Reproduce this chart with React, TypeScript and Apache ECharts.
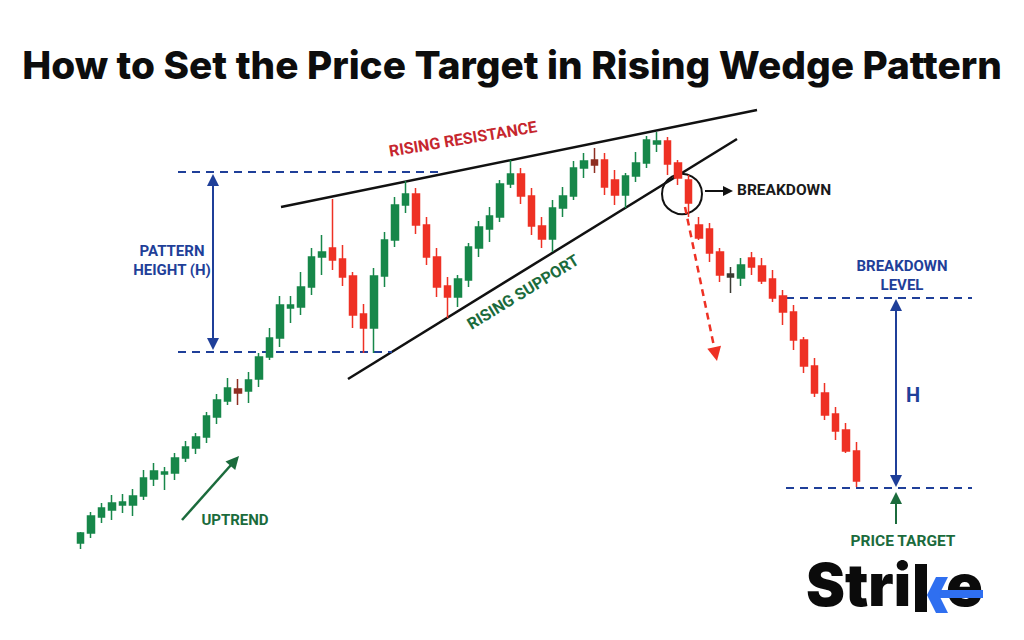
import React, { useEffect, useRef } from "react";
import * as echarts from "echarts";

// ---- Data (price units; one candle per session) ----
const openPrices = [97, 107, 123, 130, 135, 135, 144, 161, 166, 167, 182, 192, 203, 223, 239, 251, 249, 261, 283, 302, 332, 333, 353, 383, 392, 381, 364, 326, 312, 364, 400, 435, 446, 415, 383, 354, 343, 360, 392, 411, 423, 456, 466, 444, 414, 401, 432, 444, 472, 480, 480, 460, 445, 464, 477, 496, 499, 477, 460, 415, 411, 388, 366, 362, 382, 374, 361, 344, 328, 300, 274, 247, 226, 210, 189];
const closePrices = [107, 124, 132, 137, 138, 144, 162, 169, 168, 182, 193, 203, 224, 240, 252, 247, 260, 283, 302, 335, 335, 353, 383, 388, 380, 363, 325, 312, 364, 400, 435, 446, 415, 383, 353, 343, 361, 393, 413, 424, 456, 466, 444, 414, 401, 432, 444, 472, 479, 475, 453, 445, 464, 477, 500, 499, 476, 462, 437, 402, 387, 365, 363, 375, 373, 359, 342, 328, 300, 274, 247, 225, 209, 189, 159];
const lowPrices = [91, 102, 117, 120, 127, 124, 140, 154, 150, 160, 178, 186, 197, 216, 235, 235, 237, 253, 280, 293, 317, 325, 345, 365, 370, 354, 312, 287, 287, 353, 393, 427, 406, 375, 343, 322, 333, 353, 383, 398, 418, 452, 436, 405, 392, 388, 423, 440, 462, 467, 445, 435, 432, 458, 472, 488, 465, 455, 423, 400, 378, 358, 347, 354, 365, 356, 338, 315, 290, 267, 243, 220, 200, 187, 153];
const highPrices = [108, 128, 137, 145, 146, 151, 170, 177, 173, 187, 199, 207, 228, 246, 262, 261, 268, 287, 312, 344, 344, 368, 392, 405, 441, 395, 368, 336, 372, 408, 443, 459, 452, 423, 392, 363, 365, 397, 419, 433, 460, 480, 472, 452, 423, 440, 453, 479, 487, 492, 487, 470, 467, 488, 504, 508, 503, 480, 465, 423, 417, 392, 373, 382, 388, 382, 370, 350, 335, 303, 282, 257, 233, 217, 198];
// indecision candles drawn in a muted tone
const mutedCandles = [16, 50, 63];
const sessions = openPrices.map((_, i) => `Session ${i + 1}`);

const GREEN = "#17874a";
const RED = "#ee3124";
const BLUE = "#1f3f99";
const TEXT_GREEN = "#1b6b3c";
const TEXT_RED = "#c6262e";
const LOGO_BLUE = "#2f6ff0";

function measure(text: string, font: string) {
  const c = document.createElement("canvas").getContext("2d")!;
  c.font = font;
  return c.measureText(text).width;
}

function arrow(x1: number, y1: number, x2: number, y2: number, color: string, width: number, head: number, opts: { dash?: number[]; both?: boolean } = {}) {
  const ang = Math.atan2(y2 - y1, x2 - x1);
  const c = Math.cos(ang), s = Math.sin(ang);
  const mkHead = (tx: number, ty: number, dir: number) => {
    const bx = tx - dir * head * c, by = ty - dir * head * s;
    const hw = head * 0.5;
    return {
      type: "polygon",
      silent: true,
      shape: { points: [[tx, ty], [bx + hw * s, by - hw * c], [bx - hw * s, by + hw * c]] },
      style: { fill: color },
    };
  };
  const sx = opts.both ? x1 + head * 0.8 * c : x1;
  const sy = opts.both ? y1 + head * 0.8 * s : y1;
  const ex = x2 - head * 0.8 * c, ey = y2 - head * 0.8 * s;
  const els: any[] = [
    {
      type: "line",
      silent: true,
      shape: { x1: sx, y1: sy, x2: ex, y2: ey },
      style: { stroke: color, lineWidth: width, lineDash: opts.dash || null },
    },
    mkHead(x2, y2, 1),
  ];
  if (opts.both) els.push(mkHead(x1, y1, -1));
  return els;
}

function label(text: string, x: number, y: number, color: string, size: number, extra: any = {}) {
  return {
    type: "text",
    silent: true,
    x,
    y,
    rotation: extra.rotation || 0,
    style: {
      text,
      fill: color,
      fontFamily: "Roboto",
      fontWeight: "bold",
      fontSize: size,
      textAlign: extra.align || "center",
      textVerticalAlign: "middle",
    },
  };
}

function dashed(x1: number, x2: number, y: number) {
  return {
    type: "line",
    silent: true,
    shape: { x1, y1: y, x2, y2: y },
    style: { stroke: BLUE, lineWidth: 2, lineDash: [8, 6] },
  };
}

export default function App() {
  const ref = useRef<HTMLDivElement>(null);

  useEffect(() => {
    const chart = echarts.init(ref.current!, null, { renderer: "svg" });

    const title = "How to Set the Price Target in Rising Wedge Pattern";
    const tw = measure(title, "800 100px Inter");
    const titleSize = (100 * 980) / tw;

    const logoFontW = measure("Stri", "900 100px Inter");
    const logoSize = (100 * 105) / logoFontW;
    const eWidth = measure("e", `900 ${logoSize}px Inter`);
    const eScale = 37 / eWidth;

    const candleData = openPrices.map((o, i) => {
      const item: any = { value: [o, closePrices[i], lowPrices[i], highPrices[i]] };
      if (mutedCandles.includes(i + 1)) {
        const col = i + 1 === 63 ? "#3b3b33" : "#8e2f22";
        item.itemStyle = { color: col, color0: col, borderColor: col, borderColor0: col };
      }
      return item;
    });

    const graphics: any[] = [
      {
        type: "text",
        silent: true,
        x: 512,
        y: 64,
        style: {
          text: title,
          fill: "#0d0d0d",
          fontFamily: "Inter",
          fontWeight: 800,
          fontSize: titleSize,
          textAlign: "center",
          textVerticalAlign: "middle",
        },
      },
      // wedge trend lines
      { type: "line", silent: true, shape: { x1: 281, y1: 207, x2: 757, y2: 110 }, style: { stroke: "#111", lineWidth: 2.5 } },
      { type: "line", silent: true, shape: { x1: 348, y1: 379, x2: 737, y2: 139 }, style: { stroke: "#111", lineWidth: 2.5 } },
      label("RISING RESISTANCE", 463, 139, TEXT_RED, 16, { rotation: (9.5 * Math.PI) / 180 }),
      label("RISING SUPPORT", 523, 292, TEXT_GREEN, 16, { rotation: (31.5 * Math.PI) / 180 }),
      // pattern height
      dashed(178, 440, 172),
      dashed(178, 392, 352),
      ...arrow(213, 174, 213, 350, BLUE, 2, 12, { both: true }),
      label("PATTERN", 172, 251, BLUE, 15),
      label("HEIGHT (H)", 172, 270, BLUE, 15),
      // breakdown
      { type: "circle", silent: true, shape: { cx: 682, cy: 194, r: 20 }, style: { fill: "none", stroke: "#111", lineWidth: 2 } },
      ...arrow(705, 191, 733, 191, "#111", 2, 10),
      label("BREAKDOWN", 737, 190, "#1a1a1a", 15.5, { align: "left" }),
      ...arrow(685, 207, 717, 361, RED, 2.5, 14, { dash: [7, 5] }),
      // target projection
      dashed(786, 972, 298),
      dashed(786, 972, 488),
      label("BREAKDOWN", 902, 266, BLUE, 15),
      label("LEVEL", 902, 285, BLUE, 15),
      ...arrow(896, 487, 896, 299, BLUE, 2, 12, { both: true }),
      label("H", 913, 395, BLUE, 20),
      ...arrow(896, 524, 896, 492, TEXT_GREEN, 2, 12),
      label("PRICE TARGET", 903, 541, TEXT_GREEN, 15.5),
      // uptrend
      ...arrow(182, 520, 239, 456, TEXT_GREEN, 2.5, 13),
      label("UPTREND", 235, 520, TEXT_GREEN, 15),
      // logo
      {
        type: "text",
        silent: true,
        x: 911,
        y: 613,
        style: { text: "Stri", fill: "#0b0b0b", fontFamily: "Inter", fontWeight: 900, fontSize: logoSize, textAlign: "right", textVerticalAlign: "bottom" },
      },
      { type: "rect", silent: true, shape: { x: 915, y: 564, width: 12, height: 48 }, style: { fill: "#0b0b0b" } },
      {
        type: "text",
        silent: true,
        x: 946,
        y: 613,
        scaleX: eScale,
        style: { text: "e", fill: "#0b0b0b", fontFamily: "Inter", fontWeight: 900, fontSize: logoSize, textAlign: "left", textVerticalAlign: "bottom" },
      },
      { type: "rect", silent: true, shape: { x: 937, y: 590, width: 46, height: 8 }, style: { fill: LOGO_BLUE } },
      {
        type: "polygon",
        silent: true,
        shape: { points: [[948, 577], [936, 577], [927, 595], [936, 613], [948, 613], [939, 595]] },
        style: { fill: LOGO_BLUE },
      },
    ];

    chart.setOption({
      animation: false,
      backgroundColor: "#ffffff",
      grid: { left: 75.5, right: 162.5, top: 0, bottom: 0 },
      xAxis: { type: "category", data: sessions, show: false, boundaryGap: true },
      yAxis: { type: "value", min: 0, max: 640, show: false },
      series: [
        {
          type: "candlestick",
          data: candleData,
          barWidth: 7,
          itemStyle: {
            color: GREEN,
            color0: RED,
            borderColor: GREEN,
            borderColor0: RED,
            borderWidth: 1.5,
          },
        },
      ],
      graphic: graphics,
    });

    return () => chart.dispose();
  }, []);

  return (
    <div
      ref={ref}
      style={{ position: "fixed", left: 0, top: 0, width: 1024, height: 640, background: "#fff" }}
    />
  );
}
